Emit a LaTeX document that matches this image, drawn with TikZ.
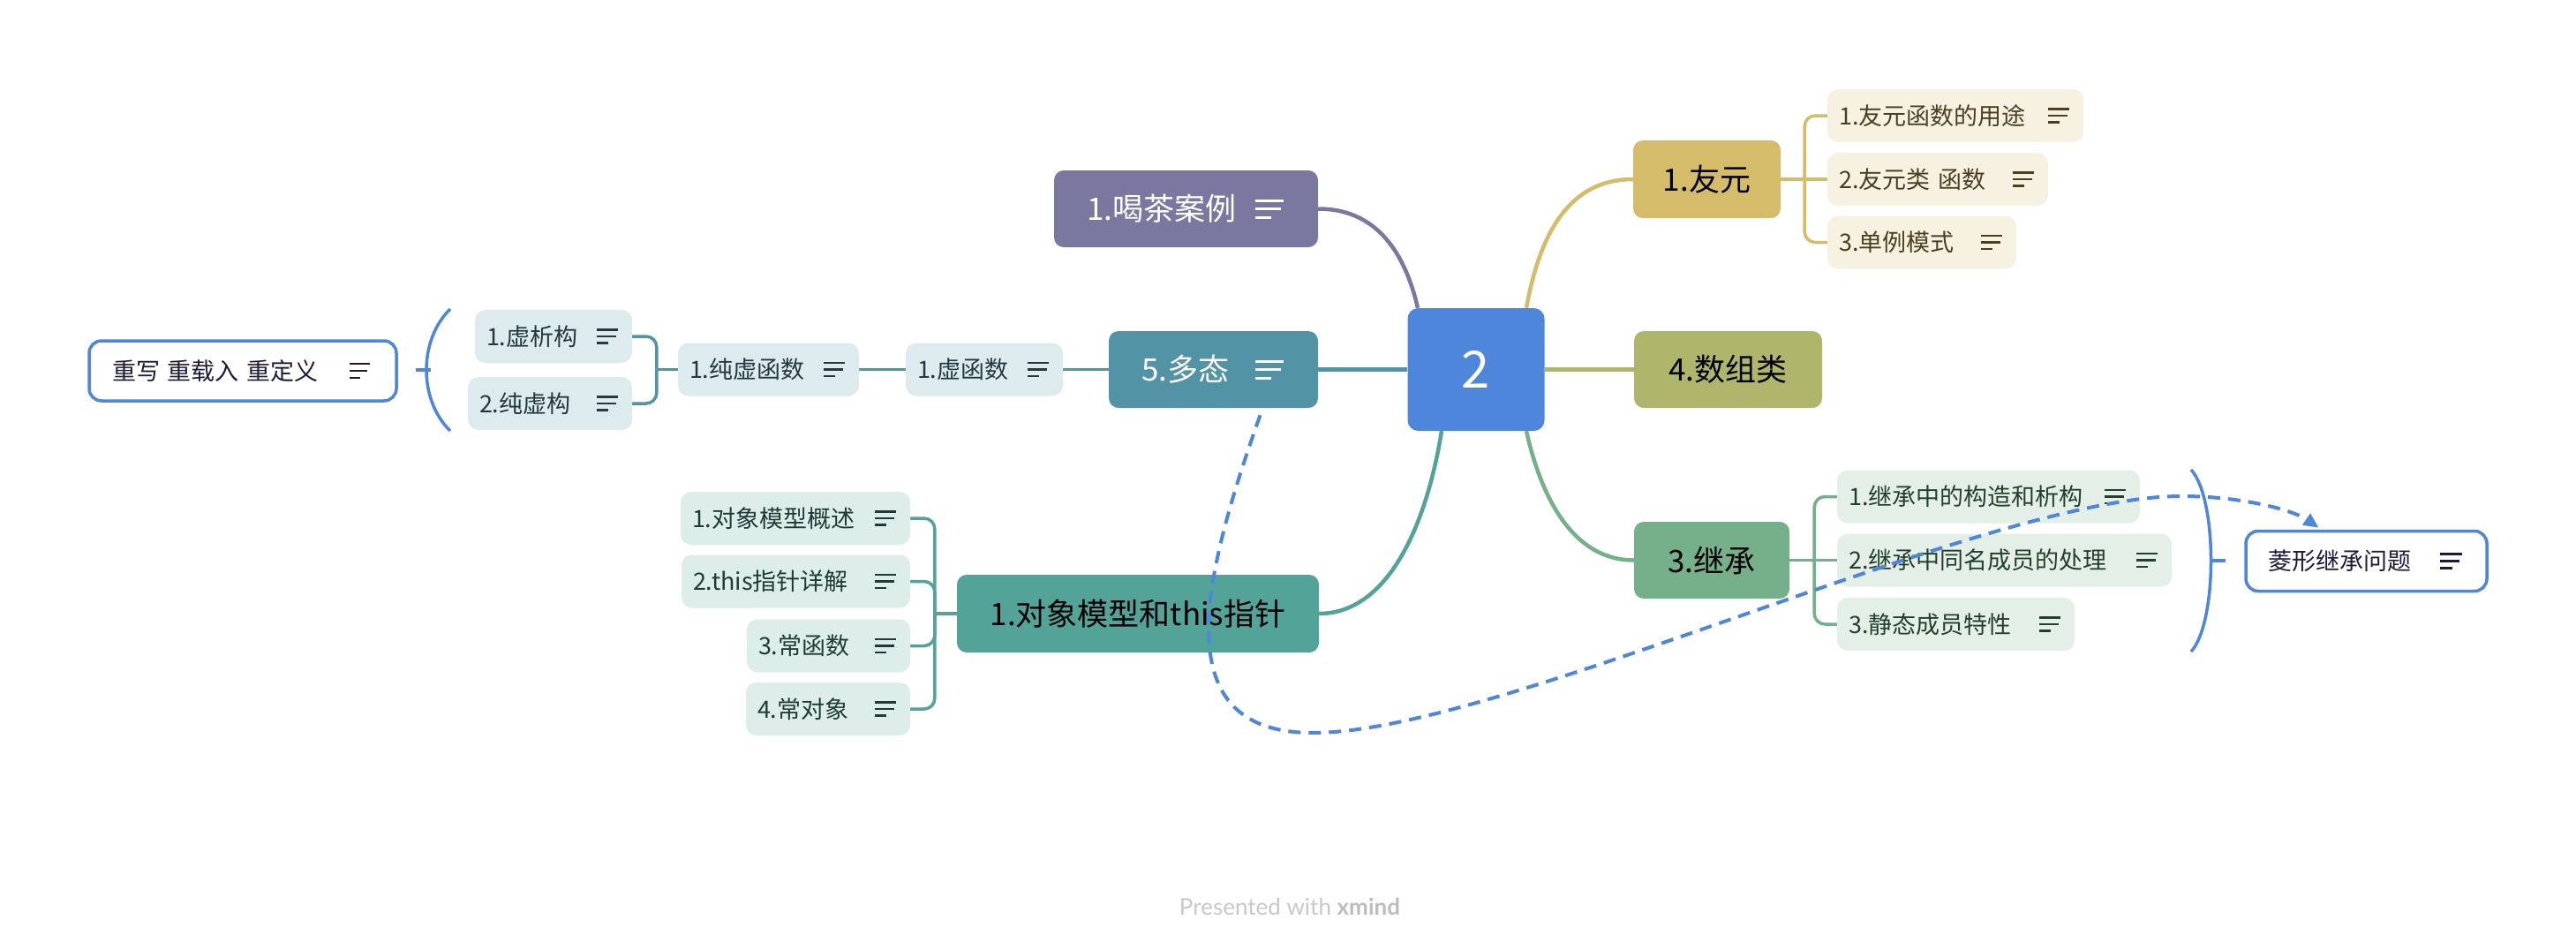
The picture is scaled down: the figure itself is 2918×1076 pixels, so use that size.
\documentclass[tikz,border=0pt]{standalone}
\usepackage{fontspec}
\setmainfont{Noto Sans CJK SC}
\newfontfamily\wmfont{Lato}
\usetikzlibrary{arrows.meta,calc}
\pgfdeclarelayer{bg}
\pgfsetlayers{bg,main}

\definecolor{cblue}{HTML}{4E86DB}
\definecolor{cpurple}{HTML}{7A78A0}
\definecolor{cteal}{HTML}{5293A5}
\definecolor{cyellow}{HTML}{D4BC6A}
\definecolor{colive}{HTML}{AFB66C}
\definecolor{cgreen}{HTML}{76B08A}
\definecolor{cobj}{HTML}{53A399}
\definecolor{fyellow}{HTML}{F6F1E1}
\definecolor{fgreen}{HTML}{E4F0E7}
\definecolor{fteal}{HTML}{DDEAEE}
\definecolor{fobj}{HTML}{DDEDEA}
\definecolor{tyellow}{HTML}{4A4020}
\definecolor{tgreen}{HTML}{24402C}
\definecolor{tteal}{HTML}{23393F}
\definecolor{tobj}{HTML}{1F3B37}
\definecolor{tnavy}{HTML}{1B1B3A}
\definecolor{wmgrey}{HTML}{C8C8C8}
\definecolor{wmdark}{HTML}{BDBDBD}

\newcommand{\subfs}{\fontsize{27}{32}\selectfont}
\newcommand{\topfs}{\fontsize{35}{40}\selectfont}
\newcommand{\noteicon}[6]{%
  \draw[line width=#5pt, #6] ($(#1.east)+(-#2-#3,-#4)$) -- ++(#3,0);
  \draw[line width=#5pt, #6] ($(#1.east)+(-#2-#3,0)$) -- ++(0.9*#3,0);
  \draw[line width=#5pt, #6] ($(#1.east)+(-#2-#3,#4)$) -- ++(0.55*#3,0);
}

\tikzset{
  central/.style={fill=cblue, rounded corners=12pt, minimum width=155pt, minimum height=139pt,
    inner sep=0pt, text=white, font=\fontsize{58}{64}\selectfont},
  topic/.style={rounded corners=11pt, minimum height=87pt, inner ysep=0pt, font=\topfs},
  subnode/.style={rounded corners=12pt, minimum height=60pt, inner ysep=0pt, inner xsep=13pt,
    align=left, font=\subfs},
  callout/.style={draw=cblue, line width=3.5pt, fill=white, rounded corners=14pt, minimum height=68pt,
    inner ysep=0pt, align=left, text=tnavy, font=\subfs},
  mainconn/.style={line width=4.5pt},
  subconn/.style={line width=3.5pt},
  sumline/.style={draw=cblue, line width=3.5pt},
}

\begin{document}
\begin{tikzpicture}[x=1pt,y=-1pt]
\begin{pgfonlayer}{bg}
\fill[white] (0,0) rectangle (2918,1076);
\end{pgfonlayer}
\useasboundingbox (0,0) rectangle (2918,1076);

% central and main topics
\node[central] (c) at (1672,418.5) {2};
\node[topic, fill=cpurple, text=white, inner xsep=37pt, text width=225pt, align=left] (tea) at (1343.5,236.5) {1.喝茶案例};
\node[topic, fill=cteal, text=white, inner xsep=37pt, text width=163pt, align=left] (poly) at (1374.5,418.5) {5.多态};
\node[topic, fill=cyellow, text=black, minimum width=167pt, minimum height=88pt] (fr) at (1933.5,203) {1.友元};
\node[topic, fill=colive, text=black, minimum width=213pt] (arr) at (1957.5,418.5) {4.数组类};
\node[topic, fill=cgreen, text=black, minimum width=176pt] (inh) at (1939,634.5) {3.继承};
\node[topic, fill=cobj, text=black, minimum width=410pt, minimum height=88pt] (obj) at (1289,695) {1.对象模型和this指针};

% friend children
\node[subnode, fill=fyellow, text=tyellow, text width=264pt] (f1) at (2215,131) {1.友元函数的用途};
\node[subnode, fill=fyellow, text=tyellow, text width=224pt] (f2) at (2195,203) {2.友元类 函数};
\node[subnode, fill=fyellow, text=tyellow, text width=188pt] (f3) at (2177,274.5) {3.单例模式};

% inheritance children
\node[subnode, fill=fgreen, text=tgreen, text width=317pt] (j1) at (2252.5,562.5) {1.继承中的构造和析构};
\node[subnode, fill=fgreen, text=tgreen, text width=353pt] (j2) at (2270.5,634.5) {2.继承中同名成员的处理};
\node[subnode, fill=fgreen, text=tgreen, text width=243pt] (j3) at (2215.5,707) {3.静态成员特性};

% polymorphism chain
\node[subnode, fill=fteal, text=tteal, text width=152pt] (xhs) at (1115,418.5) {1.虚函数};
\node[subnode, fill=fteal, text=tteal, text width=179pt] (cxhs) at (870.5,418.5) {1.纯虚函数};
\node[subnode, fill=fteal, text=tteal, text width=152pt] (xxg) at (627,381) {1.虚析构};
\node[subnode, fill=fteal, text=tteal, text width=160pt] (cxg) at (623,457) {2.纯虚构};

% object model children
\node[subnode, fill=fobj, text=tobj, text width=234pt] (d1) at (901,587) {1.对象模型概述};
\node[subnode, fill=fobj, text=tobj, text width=233pt] (d2) at (901.5,658.5) {2.this指针详解};
\node[subnode, fill=fobj, text=tobj, text width=159pt] (d3) at (938.5,731.5) {3.常函数};
\node[subnode, fill=fobj, text=tobj, text width=160pt] (d4) at (938,803) {4.常对象};

% callouts
\node[callout, inner xsep=26pt, text width=296pt] (cw) at (275,420) {重写 重载入 重定义};
\node[callout, inner xsep=25pt, text width=223pt] (lx) at (2680.5,635.5) {菱形继承问题};

% note icons
\noteicon{tea}{39}{32}{9.5}{3}{white}
\noteicon{poly}{39}{32}{9.5}{3}{white}
\noteicon{f1}{16}{24}{7.5}{2.5}{tyellow}
\noteicon{f2}{16}{24}{7.5}{2.5}{tyellow}
\noteicon{f3}{16}{24}{7.5}{2.5}{tyellow}
\noteicon{j1}{16}{24}{7.5}{2.5}{tgreen}
\noteicon{j2}{16}{24}{7.5}{2.5}{tgreen}
\noteicon{j3}{16}{24}{7.5}{2.5}{tgreen}
\noteicon{xhs}{16}{24}{7.5}{2.5}{tteal}
\noteicon{cxhs}{16}{24}{7.5}{2.5}{tteal}
\noteicon{xxg}{16}{24}{7.5}{2.5}{tteal}
\noteicon{cxg}{16}{24}{7.5}{2.5}{tteal}
\noteicon{d1}{16}{24}{7.5}{2.5}{tobj}
\noteicon{d2}{16}{24}{7.5}{2.5}{tobj}
\noteicon{d3}{16}{24}{7.5}{2.5}{tobj}
\noteicon{d4}{16}{24}{7.5}{2.5}{tobj}
\noteicon{cw}{32}{23}{8}{2.5}{tnavy}
\noteicon{lx}{30}{25}{8}{2.5}{tnavy}

% connectors
\begin{pgfonlayer}{bg}
\draw[mainconn, cpurple] ($(c.north)+(-66,0)$) .. controls (1590,280) and (1555,236.5) .. (tea.east);
\draw[mainconn, cyellow] ($(c.north)+(57,0)$) .. controls (1745,260) and (1780,203) .. (fr.west);
\draw[mainconn, colive] (c.east) -- (arr.west);
\draw[mainconn, cteal] (c.west) -- (poly.east);
\draw[mainconn, cgreen] ($(c.south)+(57,0)$) .. controls (1745,560) and (1780,634.5) .. (inh.west);
\draw[mainconn, cobj] ($(c.south)+(-39,0)$) .. controls (1615,600) and (1570,695) .. (obj.east);

\draw[subconn, cyellow] (fr.east) -- ++(27,0) coordinate (frj);
\draw[subconn, cyellow, rounded corners=12pt] (frj) |- (f1.west);
\draw[subconn, cyellow] (frj) -- (f2.west);
\draw[subconn, cyellow, rounded corners=12pt] (frj) |- (f3.west);

\draw[subconn, cgreen] (inh.east) -- ++(28,0) coordinate (inj);
\draw[subconn, cgreen, rounded corners=12pt] (inj) |- (j1.west);
\draw[subconn, cgreen] (inj) -- (j2.west);
\draw[subconn, cgreen, rounded corners=12pt] (inj) |- (j3.west);

\draw[subconn, cobj] (obj.west) -- ++(-25,0) coordinate (obj-j);
\draw[subconn, cobj, rounded corners=12pt] (obj-j) |- (d1.east);
\draw[subconn, cobj, rounded corners=12pt] (obj-j) |- (d2.east);
\draw[subconn, cobj, rounded corners=12pt] (obj-j) |- (d3.east);
\draw[subconn, cobj, rounded corners=12pt] (obj-j) |- (d4.east);

\draw[subconn, cteal] (poly.west) -- (xhs.east);
\draw[subconn, cteal] (xhs.west) -- (cxhs.east);
\draw[subconn, cteal] (cxhs.west) -- ++(-24,0) coordinate (cxj);
\draw[subconn, cteal, rounded corners=12pt] (cxj) |- (xxg.east);
\draw[subconn, cteal, rounded corners=12pt] (cxj) |- (cxg.east);
\end{pgfonlayer}

% summary brackets
\draw[sumline] (2482,532) .. controls (2512,565) and (2512,705) .. (2482,738);
\draw[sumline] (2503,635) -- (2521,635);
\draw[sumline] (510,350) .. controls (474,385) and (474,453) .. (510,488);
\draw[sumline] (488,419) -- (471,419);

% relationship (dashed)
\draw[cblue, line width=4pt, dash pattern=on 14pt off 9pt, -{Triangle[length=17pt,width=15pt]}]
  ($(poly.south)+(53,8)$) .. controls (1360,660) and (1320,830) .. (1487,830)
  .. controls (1700,830) and (2250,562) .. (2471,562)
  .. controls (2540,562) and (2598,578) .. ($(lx.north)+(-54,-2)$);

% watermark
\node[font=\wmfont\fontsize{26}{30}\selectfont, text=wmgrey] (wm) at (1461,1027)
  {Presented with \textcolor{wmdark}{\textbf{xmind}}};
\end{tikzpicture}
\end{document}
